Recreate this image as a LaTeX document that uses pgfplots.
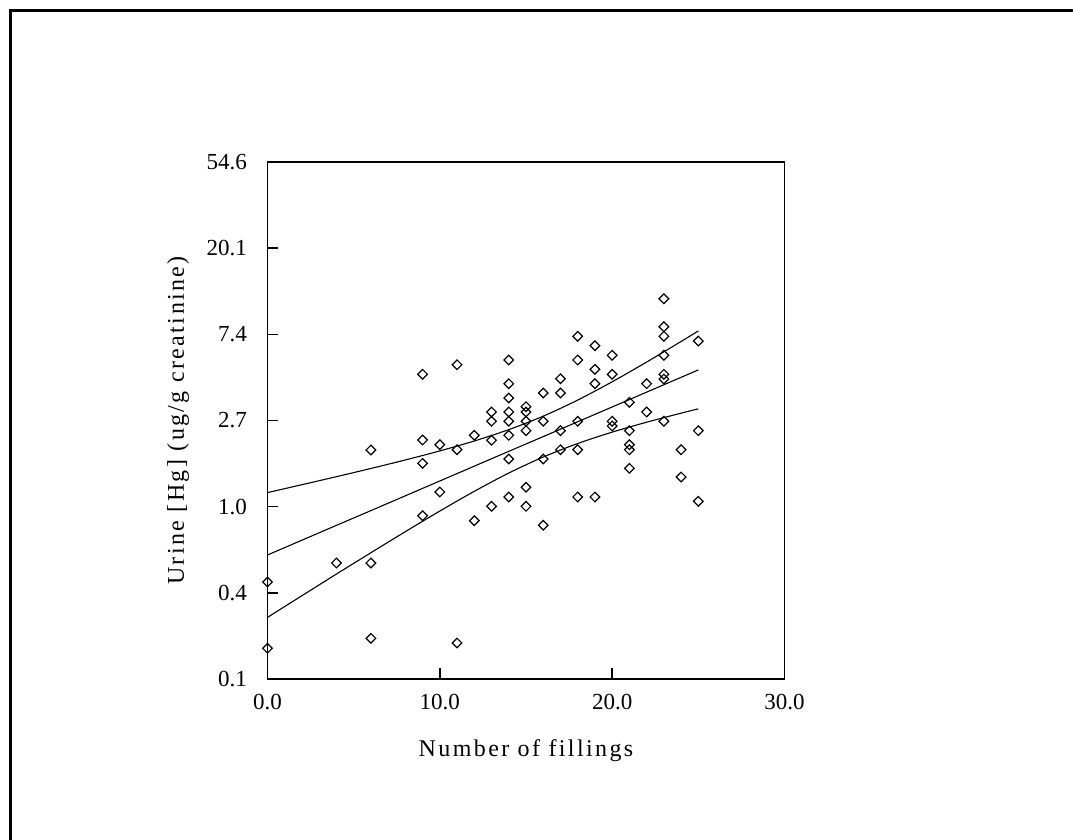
\documentclass[border=0pt]{standalone}
\usepackage{fontspec}
\setmainfont{Liberation Serif}
\newfontfamily\spaced[LetterSpace=10]{Liberation Serif}
\usepackage{pgfplots}
\usepackage{pgfplotstable}
\pgfplotsset{compat=1.18}
\pgfplotstableread{
x v
0 -0.874
0 -1.644
4 -0.654
6 0.657
6 -0.654
6 -1.528
9 1.536
9 0.774
9 0.503
9 -0.105
10 0.719
10 0.170
11 1.647
11 0.661
11 -1.582
12 0.828
12 -0.163
13 1.099
13 0.991
13 0.770
13 0.004
14 1.702
14 1.427
14 1.261
14 1.099
14 0.991
14 0.828
14 0.553
14 0.112
15 1.160
15 1.099
15 0.991
15 0.882
15 0.225
15 0.004
16 1.319
16 0.991
16 0.553
16 -0.216
17 1.485
17 1.319
17 0.882
17 0.661
18 1.977
18 1.702
18 0.991
18 0.661
18 0.112
19 1.868
19 1.594
19 1.427
19 0.112
20 1.757
20 1.536
20 0.991
20 0.936
21 1.211
21 0.882
21 0.719
21 0.661
21 0.445
22 1.427
22 1.099
23 2.413
23 2.088
23 1.977
23 1.757
23 1.536
23 1.481
23 0.991
24 0.661
24 0.344
25 1.922
25 0.882
25 0.062
}\pointdata
\pgfplotstableread{
x c u l
0 -0.561 0.163 -1.285
2 -0.389 0.255 -1.033
4 -0.217 0.348 -0.782
6 -0.046 0.443 -0.535
8 0.126 0.542 -0.290
10 0.298 0.647 -0.051
12 0.470 0.762 0.178
14 0.642 0.894 0.390
16 0.813 1.050 0.576
18 0.985 1.237 0.733
20 1.157 1.449 0.865
22 1.329 1.678 0.980
24 1.501 1.917 1.085
25 1.587 2.039 1.135
}\linedata
\begin{document}
\begin{tikzpicture}
\useasboundingbox (0pt,0pt) rectangle (536.5pt,420pt);
\draw[line width=1.5pt] (5.25pt,0pt) -- (5.25pt,414.75pt) -- (536.5pt,414.75pt);
\begin{axis}[
  at={(133.75pt,80.5pt)}, anchor=south west,
  width=258.5pt, height=258.5pt, scale only axis,
  xmin=0, xmax=30, ymin=-2, ymax=4,
  xtick={0,10,20,30}, xticklabels={0.0,10.0,20.0,30.0},
  ytick={-2,-1,0,1,2,3,4}, yticklabels={0.1,0.4,1.0,2.7,7.4,20.1,54.6},
  tick align=inside, major tick length=5.5pt,
  xtick pos=bottom, ytick pos=left,
  axis line style={line width=0.75pt},
  every tick/.style={line width=0.75pt, black},
  ticklabel style={font=\fontsize{11.5}{13}\selectfont},
  /pgf/number format/assume math mode=true,
  xticklabel style={yshift=-4.3pt},
  yticklabel style={xshift=-6.8pt},
  xlabel={\spaced Number of fillings},
  ylabel={\spaced Urine [Hg] (ug/g creatinine)},
  label style={font=\fontsize{12}{14}\selectfont},
  xlabel style={at={(axis description cs:0.5,-0.150)}, anchor=base},
  ylabel style={at={(axis description cs:-0.173,0.5)}, anchor=center, rotate=0},
  clip=false,
]
\addplot[only marks, mark=square, mark size=1.7pt, mark options={rotate=45, line width=0.6pt, black}] table[x=x, y=v] {\pointdata};
\addplot[black, line width=0.55pt, no marks] table[x=x, y=c] {\linedata};
\addplot[black, line width=0.55pt, no marks, smooth] table[x=x, y=u] {\linedata};
\addplot[black, line width=0.55pt, no marks, smooth] table[x=x, y=l] {\linedata};
\end{axis}
\end{tikzpicture}
\end{document}
